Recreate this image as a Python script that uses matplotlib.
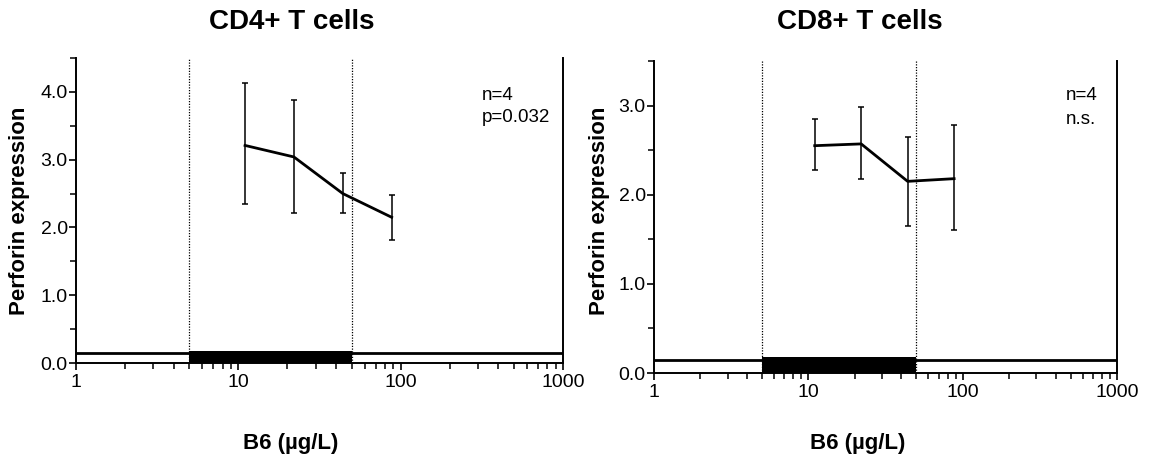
import numpy as np
import matplotlib
matplotlib.use("Agg")
import matplotlib.pyplot as plt
from matplotlib.ticker import FixedLocator, MultipleLocator, NullFormatter

plt.rcParams['font.family'] = ['Liberation Sans', 'DejaVu Sans']

# B6 concentration groups (ug/L) and perforin expression
b6 = [11, 22, 44, 88]
cd4_mean = [3.21, 3.04, 2.50, 2.15]
cd4_low = [2.34, 2.22, 2.22, 1.82]
cd4_high = [4.13, 3.88, 2.80, 2.48]
cd8_mean = [2.55, 2.57, 2.15, 2.18]
cd8_low = [2.28, 2.18, 1.65, 1.60]
cd8_high = [2.85, 2.98, 2.65, 2.78]

ref_range = [5, 50]
titles = ['CD4+ T cells', 'CD8+ T cells']
notes = [['n=4', 'p=0.032'], ['n=4', 'n.s.']]
x_ticks = [1, 10, 100, 1000]

fig = plt.figure(figsize=(11.49, 4.59), dpi=100)
W, H = 1149, 459

def px_axes(x0, x1, y0, y1):
    return fig.add_axes([x0 / W, 1 - y1 / H, (x1 - x0) / W, (y1 - y0) / H])

panels = [
    dict(ax=px_axes(76, 563, 58, 363), mean=cd4_mean, low=cd4_low, high=cd4_high,
         ymax=4.5, ymajor=[0, 1, 2, 3, 4], line_y=0.15, bar_top=0.18,
         title_x=292, ylab_x=20, xlab_x=291, note_x=482, note_y=[95, 117]),
    dict(ax=px_axes(654, 1117, 61, 373), mean=cd8_mean, low=cd8_low, high=cd8_high,
         ymax=3.5, ymajor=[0, 1, 2, 3], line_y=0.15, bar_top=0.18,
         title_x=860, ylab_x=599, xlab_x=858, note_x=1066, note_y=[95, 120]),
]

for i, p in enumerate(panels):
    ax = p['ax']
    m = np.array(p['mean'])
    err = [m - np.array(p['low']), np.array(p['high']) - m]

    # reference range markers
    for xv in ref_range:
        ax.axvline(xv, color='black', lw=0.9, ls=(0, (1, 1.2)), zorder=1)
    ax.axhline(p['line_y'], color='black', lw=2, zorder=2)
    ax.fill_between(ref_range, 0, p['bar_top'], color='black', lw=0, zorder=3)

    ax.errorbar(b6, m, yerr=err, color='black', lw=2, elinewidth=1.1,
                capsize=2.5, capthick=1.1, zorder=4)

    ax.set_xscale('log')
    ax.set_xlim(1, 1000)
    ax.set_ylim(0, p['ymax'])
    ax.xaxis.set_major_locator(FixedLocator(x_ticks))
    ax.set_xticklabels([str(t) for t in x_ticks])
    ax.xaxis.set_minor_locator(FixedLocator(
        [k * 10 ** d for d in range(3) for k in range(2, 10)]))
    ax.xaxis.set_minor_formatter(NullFormatter())
    ax.yaxis.set_major_locator(FixedLocator(p['ymajor']))
    ax.set_yticklabels(['%.1f' % v for v in p['ymajor']])
    ax.yaxis.set_minor_locator(MultipleLocator(0.5))

    ax.spines['top'].set_visible(False)
    for s in ['left', 'right', 'bottom']:
        ax.spines[s].set_linewidth(1.4)
    ax.tick_params(axis='both', which='major', direction='out', length=5,
                   width=1.2, labelsize=14, colors='black')
    ax.tick_params(axis='both', which='minor', direction='out', length=4, width=1.1)
    ax.tick_params(axis='y', pad=1)
    ax.tick_params(axis='x', pad=3)

    fig.text(p['title_x'] / W, 1 - 22 / H, titles[i], ha='center', va='center',
             fontsize=20, fontweight='bold')
    fig.text(p['ylab_x'] / W, 1 - (58 + 363) / 2 / H, 'Perforin expression',
             rotation=90, ha='center', va='center', fontsize=16, fontweight='bold')
    fig.text(p['xlab_x'] / W, 1 - 444 / H, 'B6 (µg/L)', ha='center', va='center',
             fontsize=16, fontweight='bold')
    for txt, ny in zip(notes[i], p['note_y']):
        fig.text(p['note_x'] / W, 1 - ny / H, txt, ha='left', va='center', fontsize=13.5)

fig.savefig('out.png', dpi=100)
